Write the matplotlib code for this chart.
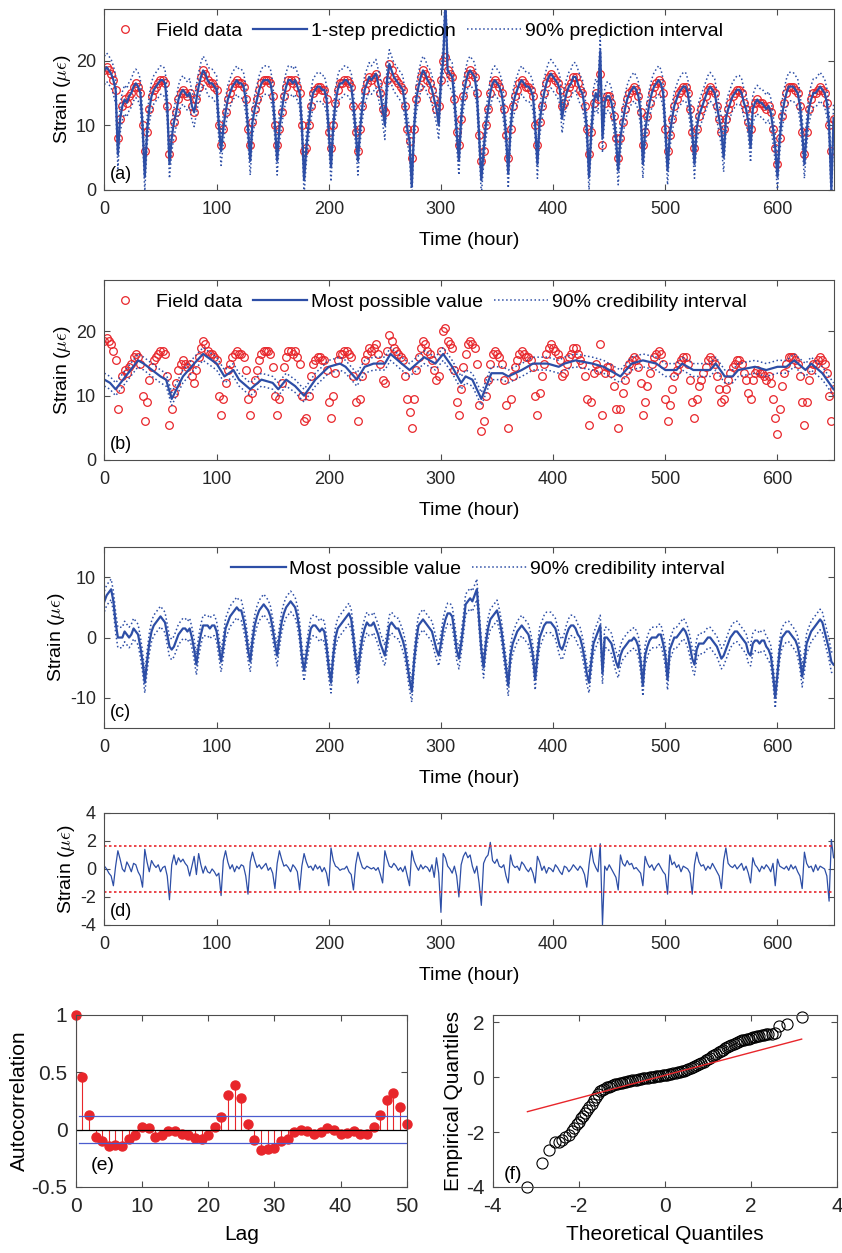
import numpy as np
import matplotlib
matplotlib.use("Agg")
import matplotlib.pyplot as plt
from matplotlib import font_manager

names = {f.name for f in font_manager.fontManager.ttflist}
narrow = "Liberation Sans Narrow" if "Liberation Sans Narrow" in names else "Liberation Sans"
plt.rcParams["font.family"] = ["Liberation Sans", "DejaVu Sans"]
plt.rcParams["mathtext.fontset"] = "cm"
plt.rcParams["axes.unicode_minus"] = False

BLUE = "#2d4ea6"
RED = "#e8262b"
AXC = "#4d4d4d"

# ---------------- data ----------------
hours = np.arange(0, 651, 2)

# field strain, one row per day (2-hour steps)
field_rows = [
    [18.5, 19, 18.5, 18, 17, 15.5, 8, 11, 13, 14, 13.5, 14.5],
    [15, 16, 16.5, 16, 15, 10, 6, 9, 12.5, 14.5, 15.5, 16],
    [16.5, 17, 17, 16.5, 13, 5.5, 8, 10.5, 12, 14, 15, 15.5],
    [15, 14.5, 15, 13, 12, 14, 16, 17.5, 18.5, 18, 17, 16.5],
    [16.5, 16, 15.5, 10, 7, 9.5, 12, 14, 15, 16, 16.5, 17],
    [16.5, 16.5, 16, 14, 9.5, 7, 10.5, 12.5, 14, 15.5, 16.5, 17],
    [17, 17, 16.5, 14.5, 10, 7, 9.5, 12, 14.5, 16, 17, 17],
    [16.5, 17, 16, 15, 10, 6, 6.5, 10, 13, 15, 15.5, 16],
    [16, 15.5, 15.5, 14, 9, 6.5, 10, 13.5, 15.5, 16.5, 16.5, 17],
    [17, 16.5, 16, 13, 9, 6, 9.5, 13, 15.5, 16.5, 17.5, 17],
    [17.5, 18, 16.5, 15, 12.5, 12, 17, 19.5, 18.5, 17.5, 17, 16.5],
    [16, 15.5, 13, 9.5, 7.5, 5, 9.5, 14, 16, 17.5, 18.5, 18],
    [17, 16.5, 15.5, 14, 12.5, 13, 17, 20, 20.5, 18.5, 18, 17.5],
    [14, 9, 7, 11, 14.5, 16.5, 18, 18.5, 18, 17.5, 15, 8.5],
    [4.5, 6, 10, 12.5, 15, 16.5, 17, 16.5, 16, 15, 12.5, 8.5],
    [5, 9.5, 13, 14.5, 15.5, 16.5, 17, 16.5, 16, 16, 15.5, 14.5],
    [10, 7, 10.5, 13, 15, 16.5, 17.5, 18, 17.5, 17, 16.5, 15.5],
    [13, 13.5, 15, 16, 16.5, 17.5, 17.5, 16.5, 15.5, 15, 13, 9.5],
    [5.5, 9, 13.5, 15, 14, 18, 7, 13.5, 14.5, 14.5, 13.5, 11.5],
    [8, 5, 8, 10.5, 12.5, 14, 15, 15.5, 16, 15.5, 14.5, 12],
    [7, 9, 11.5, 13.5, 15, 16, 16.5, 17, 16.5, 15, 9.5, 6],
    [8.5, 11, 13, 14, 15, 15.5, 16, 16, 15, 12.5, 9, 6.5],
    [9.5, 11.5, 12.5, 13.5, 14.5, 15.5, 16, 15.5, 15, 13, 11, 9],
    [9.5, 11, 12.5, 13.5, 14.5, 15, 15.5, 15.5, 15, 13.5, 12.5, 10.5],
    [9.5, 12.5, 13.5, 14, 13.5, 13.5, 13, 12.5, 13, 12, 9.5, 6.5],
    [4, 8, 11.5, 13.5, 15, 16, 16, 16, 15.5, 15, 13, 9],
    [5.5, 9, 12.5, 14, 15, 15, 15.5, 16, 15.5, 15, 13.5, 10],
    [6, 11],
]

# 1-step prediction: follows the data except at these hours
pred_override = {12: 5.5, 36: 2, 58: 4, 104: 6, 130: 4.5, 154: 4.5, 178: 1.5,
                 202: 3.5, 226: 4.5, 250: 10, 274: 0.5, 298: 10, 304: 29,
                 316: 4.5, 336: 1.5, 360: 2.5, 386: 4, 408: 11, 432: 2,
                 442: 21.5, 444: 8, 458: 3, 480: 4, 502: 3, 526: 4, 552: 5,
                 576: 6.5, 600: 2, 624: 4, 648: 0}
pred_half = 2.2  # half width of 90% prediction interval

# trend (most possible value, panel b)
trend_knots = [(0, 12.5), (5, 12), (10, 11), (30, 15.5), (35, 15), (50, 13),
               (55, 12.5), (60, 9.5), (70, 13), (80, 15), (88, 16.5), (100, 15),
               (107, 13), (115, 14), (120, 12.5), (130, 11), (140, 12.5),
               (150, 12), (155, 11), (162, 12.5), (170, 11.5), (178, 10),
               (188, 12.5), (200, 14.5), (210, 15), (215, 14.5), (225, 12.5),
               (232, 14.5), (240, 15), (250, 15), (255, 16.5), (265, 15),
               (272, 14), (285, 16), (295, 15), (302, 16.5), (310, 14.5),
               (318, 12), (322, 13), (328, 12.5), (336, 9.5), (345, 13.5),
               (355, 13.5), (360, 13), (372, 14), (382, 15), (395, 15),
               (405, 14.5), (410, 15), (420, 15.5), (435, 15), (445, 14.5),
               (455, 13.5), (460, 13), (470, 15), (480, 15.5), (492, 15),
               (500, 14), (510, 14), (515, 15), (525, 14), (535, 14), (540, 14),
               (545, 15), (553, 13), (560, 13), (565, 14), (580, 14.5),
               (590, 14), (600, 14.5), (608, 14.5), (615, 15.5), (625, 14),
               (630, 15), (640, 13.5), (650, 11)]
trend_half = 1.0

# periodic component (panel c), 2-hour steps
cyc_rows = [
    [6, 7, 7.5, 8, 6, 2.5, 0, 0, 0, 1, 0.5, 0],
    [0.5, 1.5, 1, 0.5, -1.5, -4, -7.5, -4, -1, 1, 2, 2.5],
    [3, 3.5, 3, 2.5, 0.5, -1.5, -2, -1.5, -0.5, 0.5, 1, 1.5],
    [1.5, 1, 1.5, 0, -2, -4.5, -1.5, 0.5, 2, 2, 2, 1.5],
    [2, 2, 1, -1.5, -4, -1.5, 1.5, 2.5, 3.5, 4, 4.5, 5],
    [4.5, 4.5, 3, 1, -2, -4, -0.5, 2, 3.5, 4.5, 5, 5.5],
    [5, 4.5, 3.5, 1.5, -1, -3, 0, 2.5, 4, 5, 5.5, 6],
    [5.5, 5, 3.5, 1, -3, -5.5, -3, -0.5, 1.5, 2, 2, 1.5],
    [1, 1.5, 1, -1.5, -5, -7.5, -3, 0, 1.5, 2, 2.5, 3],
    [3.5, 4, 3, 0, -3.5, -6, -2.5, 0, 1.5, 2.5, 2, 2],
    [2.5, 1.5, 0.5, -1, -2, -3, -0.5, 2, 2.5, 2, 1.5, 1.5],
    [0.5, -0.5, -2, -4.5, -7, -9, -4, -0.5, 2, 2.5, 3, 2.5],
    [2, 1.5, 1, -0.5, -2, -3, -1, 1.5, 3, 4, 4, 3.5],
    [1, -2, -3.5, -1, 2, 5.5, 6, 6.5, 6, 7, 8, 3],
    [-2, -5, -1, 1.5, 3, 3.5, 4, 4.5, 3, 1, -2, -5],
    [-8, -3, -1, 0, 1, 1.5, 2, 1.5, 1, 0.5, -1, -3],
    [-7, -3, 0, 1, 2, 2.5, 2.5, 2.5, 2, 1.5, 0, -1.5],
    [-2, -1, 0.5, 1.5, 2, 2, 1.5, 0.5, 0, -1.5, -3.5, -6],
    [-7.5, -4, -1, 0, 1, 2, -6, 0, 0, -0.5, -1, -2.5],
    [-4, -5, -3, -2, -1.5, -1, -0.5, -0.5, 0, -0.5, -1.5, -4],
    [-8, -3, -1.5, -0.5, 0, 0, 0, 0.5, 0.5, -1, -3, -7],
    [-2, -1, 0, 0, 0.5, 1, 1.5, 1, 0, -1.5, -3.5, -4.5],
    [-2, -1, -1, -1, -0.5, 0, 0, -0.5, -1, -1.5, -2.5, -3.5],
    [-3, -2, -1, 0, 0.5, 1, 1, 0.5, 0, -0.5, -1, -2.5],
    [-3, -1, -0.5, -0.5, -1, -0.5, -0.5, -1.5, -2, -3, -6, -10],
    [-6, -2, 0, 0.5, 1, 1, 0.5, 0, -0.5, -1.5, -3.5, -6.5],
    [-4, -1, 0, 1, 1.5, 2, 2.5, 3, 2.5, 1, -0.5, -2],
    [-4, -4.5],
]
cyc_half = 1.7

# residual (panel d), 2-hour steps
res_rows = [
    [0.2, 0, -0.3, -0.5, -1.2, 0.2, 1.3, 0.7, 0, -0.2, 0.5, 0.2],
    [-0.2, 0.4, 0.3, -0.2, -0.5, -1.3, 1.4, 0.5, -0.2, 0.6, 0.3, 0.1],
    [0.3, -0.2, 0.1, 0.2, -0.5, -2.2, 0.3, 1.0, 0.3, 0.8, 0.5, 0.7],
    [0.4, 0.2, -0.5, 0.2, 0.9, -0.4, 1.1, 0.3, -0.3, 0.2, -0.2, -0.3],
    [0, -0.2, -0.5, -0.3, -1.9, 0.6, 1.3, 0.5, 0, 0.3, -0.2, 0.2],
    [0, 0.3, 0.2, -0.5, -1.8, 0.5, 1.2, 0.6, 0.1, 0.3, 0, 0.2],
    [0.4, -0.1, 0.1, -0.3, -1.4, 0.4, 1.3, 0.7, 0.2, 0.3, 0.1, -0.2],
    [0.3, 0.1, -0.2, -1.5, 0.2, 1.1, 0.5, 0.1, 0.2, -0.1, 0.3, 0],
    [0.2, -0.2, 0.1, -0.3, -1.2, 1.5, 0.6, 0.2, 0.1, -0.1, 0, 0],
    [0.2, -0.2, -0.4, -1.5, 0.3, 1.2, 0.6, 0.1, 0, 0.2, 0.1, 0],
    [0.1, -0.1, 0.1, -0.4, -1.0, 1.3, 0.7, 0.2, 0.1, 0.4, 0.2, -0.1],
    [0.1, -0.2, 0.2, -0.5, -1.2, 1.3, 0.6, 0.2, -0.1, 0.3, 0, 0.2],
    [0.1, -0.2, 0.3, -0.6, 0.8, -0.3, -3.1, 1.1, 0.8, 0.2, 0, -0.3],
    [0.2, -0.5, -2.0, 0.3, 0.9, 1.2, 0.8, 1.0, 0.2, -0.3, 0.2, -1.0],
    [-2.6, 0.4, 0.8, 1.0, 1.9, 0.6, 0.4, 0.7, 0.2, 0.1, 0.3, -0.5],
    [-1.0, 1.0, 0.3, 0.1, 0.2, -0.1, 0.5, 0.3, 0, -0.2, 0.1, -0.3],
    [-1.0, 0.9, 0.5, -0.1, 0.2, -0.3, 0.1, 0, -0.2, 0.3, 0.1, -0.2],
    [-0.4, 0.2, 0.1, -0.2, 0, 0.3, 0.1, -0.1, 0.2, 0, -0.4, -1.3],
    [0.3, 1.5, 0.5, 0.1, -0.2, 1.8, -4.0, 0.2, -0.1, 0.3, 0, -0.3],
    [-0.6, -1.5, 1.0, 0.4, 0.2, 0.6, 0.3, 0.4, 0, 0.1, -0.1, -0.3],
    [-1.2, 0.9, 0.4, 0.1, 0.3, -0.1, 0.2, 0.4, 0.1, -0.2, -0.4, -1.8],
    [1.0, 0.3, 0.5, 0.1, 0.3, -0.2, 0.2, 0.1, 0, -0.3, -1.8, 0.3],
    [1.2, 0.5, 0.2, 0.3, -0.1, 0.2, 0, 0.4, 0.1, -0.2, -0.5, -1.4],
    [0.6, 1.5, 0.4, 0.2, 0.1, 0.3, 0, 0.2, 0.4, -0.1, 0.2, -0.3],
    [-1.0, 0.8, 0.3, 0.1, -0.2, 0.2, 0, 0.3, 0.1, -0.2, 0.4, -1.2],
    [0.7, 0.2, 0.1, 0, 0.2, -0.1, 0.3, 0, 0.2, -0.2, -0.5, -1.4],
    [1.2, 0.4, 0.1, 0.2, -0.2, 0.3, -0.1, 0.2, 0.1, 0, -0.5, -2.3],
    [2.1, 0.8],
]
res_bound = 1.65

# autocorrelation of residuals (panel e)
acf = [1.0, 0.46, 0.13, -0.06, -0.1, -0.14, -0.13, -0.14, -0.08, -0.05, 0.02,
       0.01, -0.06, -0.05, -0.01, -0.01, -0.04, -0.05, -0.07, -0.08, -0.05,
       0.02, 0.11, 0.30, 0.39, 0.28, 0.05, -0.09, -0.18, -0.17, -0.16, -0.10,
       -0.08, -0.02, 0.0, -0.01, -0.04, -0.02, 0.01, 0.0, -0.04, -0.03, -0.01,
       -0.04, -0.04, 0.02, 0.13, 0.26, 0.32, 0.20, 0.05]
acf_bound = 0.117

# QQ plot (panel f): (theoretical, empirical) quantile pairs
qq_pairs = [
    (-3.19, -4.0), (-2.85, -3.13), (-2.69, -2.65), (-2.56, -2.36), (-2.46, -2.36),
    (-2.38, -2.3), (-2.31, -2.2), (-2.23, -2.1), (-2.15, -1.95), (-2.1, -1.85),
    (-2.05, -1.72), (-2.0, -1.62), (-1.95, -1.5), (-1.9, -1.4), (-1.85, -1.3),
    (-1.8, -1.2), (-1.75, -1.1), (-1.7, -0.98), (-1.65, -0.85), (-1.6, -0.72),
    (-1.55, -0.6), (-1.5, -0.52), (-1.45, -0.46), (-1.4, -0.42), (-1.35, -0.38),
    (-1.3, -0.35), (-1.25, -0.32), (-1.2, -0.3), (-1.15, -0.27), (-1.1, -0.25),
    (-1.05, -0.23), (-1.0, -0.21), (-0.95, -0.19), (-0.9, -0.17), (-0.85, -0.155),
    (-0.8, -0.14), (-0.75, -0.125), (-0.7, -0.11), (-0.65, -0.095), (-0.6, -0.08),
    (-0.55, -0.065), (-0.5, -0.05), (-0.45, -0.035), (-0.4, -0.02), (-0.35, -0.01),
    (-0.3, 0.0), (-0.25, 0.01), (-0.2, 0.02), (-0.15, 0.035), (-0.1, 0.05),
    (-0.05, 0.06), (0.0, 0.07), (0.05, 0.085), (0.1, 0.1), (0.15, 0.115),
    (0.2, 0.13), (0.25, 0.15), (0.3, 0.17), (0.35, 0.19), (0.4, 0.21),
    (0.45, 0.235), (0.5, 0.26), (0.55, 0.29), (0.6, 0.32), (0.65, 0.355),
    (0.7, 0.39), (0.75, 0.43), (0.8, 0.47), (0.85, 0.515), (0.9, 0.56),
    (0.95, 0.605), (1.0, 0.65), (1.05, 0.7), (1.1, 0.75), (1.15, 0.8),
    (1.2, 0.85), (1.25, 0.9), (1.3, 0.95), (1.35, 1.0), (1.4, 1.04),
    (1.45, 1.08), (1.5, 1.12), (1.55, 1.16), (1.6, 1.2), (1.65, 1.235),
    (1.7, 1.27), (1.75, 1.3), (1.8, 1.33), (1.85, 1.355), (1.9, 1.38),
    (1.95, 1.4), (2.0, 1.42), (2.05, 1.445), (2.1, 1.47), (2.15, 1.49),
    (2.2, 1.51), (2.25, 1.525), (2.3, 1.54), (2.35, 1.55), (2.4, 1.56),
    (2.48, 1.58), (2.55, 1.62), (2.65, 1.85), (2.85, 1.93), (3.19, 2.2),
]
qq_line_x = [-3.19, 3.18]
qq_line_y = [-1.26, 1.38]

# ---------------- assemble ----------------
field = np.array([v for row in field_rows for v in row])
pred = field.copy()
for h, v in pred_override.items():
    pred[h // 2] = v
cyc = np.array([v for row in cyc_rows for v in row])
res = np.array([v for row in res_rows for v in row])
t_hours = [k[0] for k in trend_knots]
t_vals = np.array([k[1] for k in trend_knots])
qq_x = [p[0] for p in qq_pairs]
qq_y = [p[1] for p in qq_pairs]

fig = plt.figure(figsize=(8.42, 12.53), dpi=100)
NF = [narrow, "DejaVu Sans"]


def style(ax, fs=13, xpad=8, ypad=6):
    ax.tick_params(direction="in", top=True, right=True, length=4,
                   width=0.8, colors=AXC, labelsize=fs, labelcolor="#262626")
    ax.tick_params(axis="x", pad=xpad)
    ax.tick_params(axis="y", pad=ypad)
    for s in ax.spines.values():
        s.set_color(AXC)
        s.set_linewidth(0.8)


def ts_axes(rect, ylim, yticks, letter):
    ax = fig.add_axes(rect)
    ax.set_xlim(0, 650)
    ax.set_ylim(*ylim)
    ax.set_xticks(range(0, 700, 100))
    ax.set_yticks(yticks)
    ax.set_xlabel("Time (hour)", fontsize=14, family=NF, labelpad=10)
    ax.set_ylabel(r"Strain ($\mu\epsilon$)", fontsize=14, family=NF, labelpad=2)
    ax.text(0.008, 0.04, letter, transform=ax.transAxes, fontsize=13,
            family=NF, va="bottom")
    style(ax)
    return ax


leg_kw = dict(frameon=False, ncol=3, handlelength=2.8, handletextpad=0.2,
              columnspacing=0.55, borderaxespad=0.3,
              prop={"family": NF, "size": 14})
TOP_L, TOP_W = 0.124, 0.866

# (a)
ax = ts_axes([TOP_L, 0.8484, TOP_W, 0.1444], (0, 28), [0, 10, 20], "(a)")
ax.plot(hours, field, "o", mfc="none", mec=RED, ms=5.5, mew=0.9, label="Field data")
ax.plot(hours, pred, "-", color=BLUE, lw=1.6, label="1-step prediction")
ax.plot(hours, pred + pred_half, ":", color=BLUE, lw=1.1,
        label="90% prediction interval")
ax.plot(hours, pred - pred_half, ":", color=BLUE, lw=1.1)
ax.legend(loc="upper left", bbox_to_anchor=(-0.028, 1.0), **leg_kw)

# (b)
ax = ts_axes([TOP_L, 0.6329, TOP_W, 0.1436], (0, 28), [0, 10, 20], "(b)")
ax.plot(hours, field, "o", mfc="none", mec=RED, ms=5.5, mew=0.9, label="Field data")
ax.plot(t_hours, t_vals, "-", color=BLUE, lw=1.6, label="Most possible value")
ax.plot(t_hours, t_vals + trend_half, ":", color=BLUE, lw=1.1,
        label="90% credibility interval")
ax.plot(t_hours, t_vals - trend_half, ":", color=BLUE, lw=1.1)
ax.legend(loc="upper left", bbox_to_anchor=(-0.028, 1.0), **leg_kw)

# (c)
ax = ts_axes([TOP_L, 0.4190, TOP_W, 0.1444], (-15, 15), [-10, 0, 10], "(c)")
ax.plot(hours, cyc, "-", color=BLUE, lw=1.6, label="Most possible value")
ax.plot(hours, cyc + cyc_half, ":", color=BLUE, lw=1.1,
        label="90% credibility interval")
ax.plot(hours, cyc - cyc_half, ":", color=BLUE, lw=1.1)
ax.legend(loc="upper right", bbox_to_anchor=(0.87, 1.0), **leg_kw)

# (d)
ax = ts_axes([TOP_L, 0.2618, TOP_W, 0.0894], (-4, 4), [-4, -2, 0, 2, 4], "(d)")
ax.plot(hours, res, "-", color=BLUE, lw=0.9)
for b in (res_bound, -res_bound):
    ax.axhline(b, color=RED, lw=1.2, ls=(0, (1.5, 1.5)))

# (e)
ax = fig.add_axes([0.090, 0.0527, 0.393, 0.1373])
lags = np.arange(len(acf))
ml, sl, bl = ax.stem(lags, acf, linefmt="-", markerfmt="o", basefmt="-")
plt.setp(sl, color=RED, lw=0.8)
plt.setp(ml, color=RED, ms=6.5, clip_on=False)
plt.setp(bl, color="black", lw=0.9)
for b in (acf_bound, -acf_bound):
    ax.plot([0.5, 50], [b, b], color="#4a5ccf", lw=0.9)
ax.set_xlim(0, 50)
ax.set_ylim(-0.5, 1)
ax.set_xticks(range(0, 51, 10))
ax.set_yticks([-0.5, 0, 0.5, 1])
ax.set_yticklabels(["-0.5", "0", "0.5", "1"])
ax.set_xlabel("Lag", fontsize=15, labelpad=7)
ax.set_ylabel("Autocorrelation", fontsize=15, labelpad=2)
ax.text(2.3, -0.35, "(e)", fontsize=14)
style(ax, 15, xpad=7, ypad=6)

# (f)
ax = fig.add_axes([0.585, 0.0527, 0.409, 0.1373])
ax.plot(qq_x, qq_y, "o", mfc="none", mec="black", ms=8, mew=0.8, clip_on=False)
ax.plot(qq_line_x, qq_line_y, "-", color=RED, lw=1.0)
ax.set_xlim(-4, 4)
ax.set_ylim(-4, 2.26)
ax.set_xticks([-4, -2, 0, 2, 4])
ax.set_yticks([-4, -2, 0, 2])
ax.set_xlabel("Theoretical Quantiles", fontsize=15, labelpad=7)
ax.set_ylabel("Empirical Quantiles", fontsize=15, labelpad=2)
ax.text(-3.75, -3.7, "(f)", fontsize=14)
style(ax, 15, xpad=7, ypad=6)

fig.savefig("out.png", dpi=100)
